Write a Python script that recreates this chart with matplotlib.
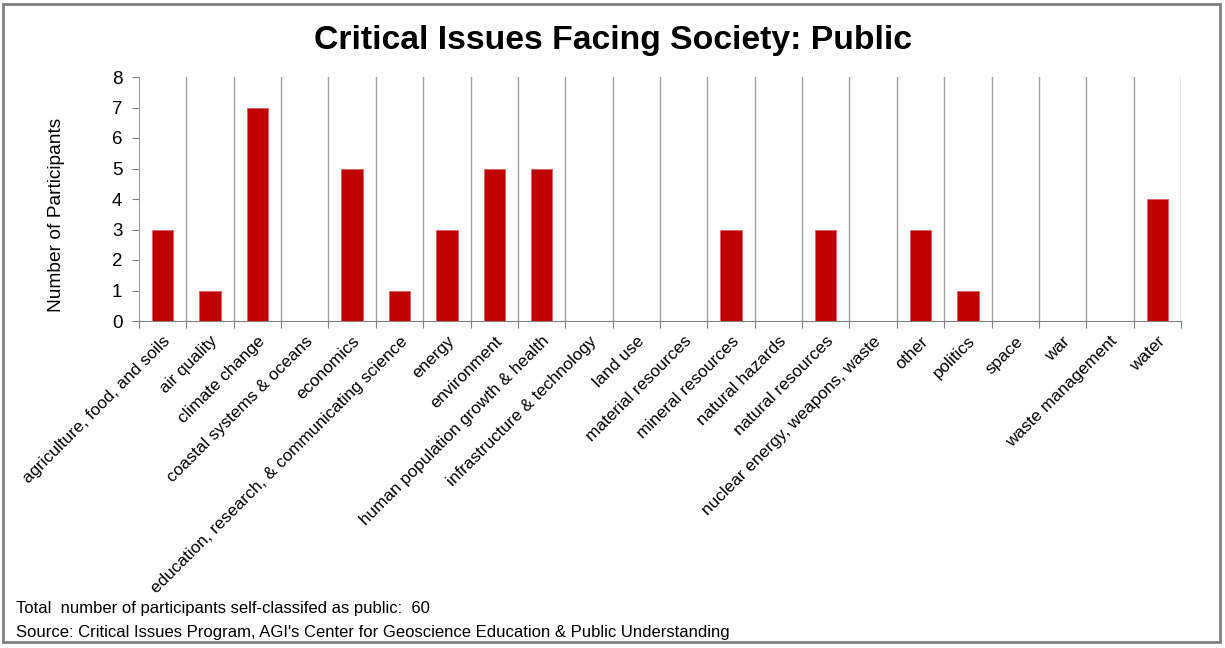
import numpy as np
import matplotlib.pyplot as plt
from matplotlib.patches import Rectangle

plt.rcParams['font.family'] = ['Liberation Sans', 'DejaVu Sans']

# issues named by participants who classified themselves as public
issues = [
    'agriculture, food, and soils',
    'air quality',
    'climate change',
    'coastal systems & oceans',
    'economics',
    'education, research, & communicating science',
    'energy',
    'environment',
    'human population growth & health',
    'infrastructure & technology',
    'land use',
    'material resources',
    'mineral resources',
    'natural hazards',
    'natural resources',
    'nuclear energy, weapons, waste',
    'other',
    'politics',
    'space',
    'war',
    'waste management',
    'water',
]
counts = [3, 1, 7, 0, 5, 1, 3, 5, 5, 0, 0, 0, 3, 0, 3, 0, 3, 1, 0, 0, 0, 4]
total_public = 60

fig = plt.figure(figsize=(12.25, 6.48), dpi=100)
ax = fig.add_axes([139 / 1225, 1 - 321 / 648, (1181 - 139) / 1225, (321 - 77) / 648])

x = np.arange(len(issues))
ax.bar(x, counts, width=0.45, color='#C00000', edgecolor='#E06060', linewidth=0.6, zorder=3)

ax.set_xlim(-0.5, len(issues) - 0.5)
ax.set_ylim(0, 8)
ax.set_yticks(range(0, 9))

# category boundaries carry the ticks and the vertical grid
bounds = np.arange(len(issues) + 1) - 0.5
ax.set_xticks(bounds)
ax.set_xticklabels([])
ax.set_xticks(x, minor=True)
ax.set_xticklabels(issues, minor=True, rotation=45, ha='right', rotation_mode='anchor', fontsize=12.3)
ax.tick_params(axis='x', which='minor', length=0, pad=9)
ax.tick_params(axis='x', which='major', length=5, color='#808080')
ax.tick_params(axis='y', length=5, color='#808080', labelsize=13.5, pad=7)
for b in bounds[1:]:
    ax.axvline(b, color='#A0A0A0', linewidth=1, zorder=1)

for side in ['top', 'right']:
    ax.spines[side].set_visible(False)
ax.spines['left'].set_color('#A0A0A0')
ax.spines['bottom'].set_color('#808080')

ax.set_ylabel('Number of Participants', fontsize=13.8)
ax.yaxis.set_label_coords((65 - 139) / 1042, (321 - 215) / 244)

fig.text(0.5, 1 - 41 / 648, 'Critical Issues Facing Society: Public', ha='center', va='center',
         fontsize=24.3, fontweight='bold')
fig.text(16 / 1225, 1 - 608 / 648, 'Total  number of participants self-classifed as public:  %d' % total_public,
         ha='left', va='center', fontsize=12)
fig.text(16 / 1225, 1 - 633 / 648,
         "Source: Critical Issues Program, AGI's Center for Geoscience Education & Public Understanding",
         ha='left', va='center', fontsize=12)

# outer frame
fig.patches.append(Rectangle((3 / 1225, 6 / 648), 1217 / 1225, 638 / 648, transform=fig.transFigure,
                             fill=False, edgecolor='#808080', linewidth=2))

fig.savefig('out.png', dpi=100)
